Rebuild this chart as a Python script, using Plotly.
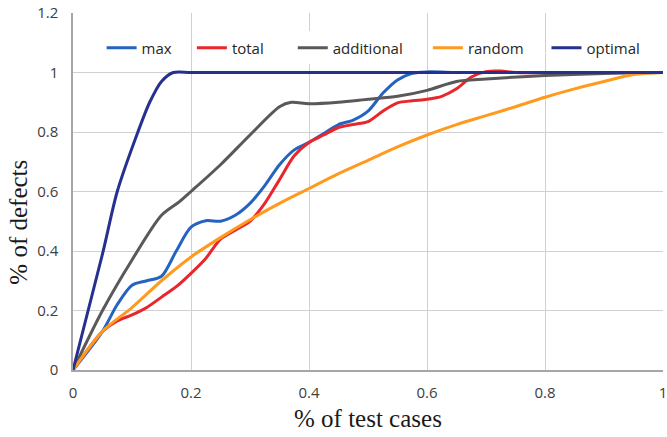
import plotly.graph_objects as go

# ---- data ----
max_x = [0, 0.05, 0.075, 0.1, 0.125, 0.15, 0.175, 0.2, 0.225, 0.25, 0.275, 0.3, 0.325, 0.35,
         0.375, 0.4, 0.425, 0.45, 0.475, 0.5, 0.525, 0.55, 0.575, 0.6, 0.65, 0.7, 0.8, 1.0]
max_y = [0, 0.13, 0.22, 0.285, 0.3, 0.315, 0.4, 0.48, 0.502, 0.5, 0.52, 0.56, 0.62, 0.69,
         0.74, 0.765, 0.795, 0.825, 0.84, 0.87, 0.93, 0.975, 0.997, 1.002, 1.0, 1.0, 1.0, 1.0]

total_x = [0, 0.05, 0.075, 0.1, 0.125, 0.15, 0.175, 0.2, 0.225, 0.25, 0.275, 0.3, 0.325, 0.35,
           0.375, 0.4, 0.425, 0.45, 0.475, 0.5, 0.525, 0.55, 0.575, 0.6, 0.625, 0.65, 0.675,
           0.7, 0.725, 0.75, 0.85, 1.0]
total_y = [0, 0.13, 0.165, 0.185, 0.21, 0.245, 0.28, 0.325, 0.375, 0.44, 0.47, 0.5, 0.56, 0.64,
           0.72, 0.765, 0.79, 0.815, 0.825, 0.835, 0.87, 0.898, 0.905, 0.91, 0.92, 0.945, 0.985,
           1.003, 1.005, 1.0, 1.0, 1.0]

additional_x = [0, 0.05, 0.1, 0.15, 0.18, 0.2, 0.25, 0.3, 0.35, 0.37, 0.4, 0.45, 0.5, 0.55,
                0.6, 0.65, 0.7, 0.8, 0.9, 1.0]
additional_y = [0, 0.2, 0.37, 0.52, 0.565, 0.6, 0.69, 0.79, 0.885, 0.9, 0.895, 0.9, 0.91, 0.92,
                0.94, 0.97, 0.978, 0.99, 0.997, 1.0]

random_x = [0, 0.05, 0.1, 0.15, 0.2, 0.25, 0.3, 0.35, 0.4, 0.45, 0.5, 0.55, 0.6, 0.65, 0.7,
            0.75, 0.8, 0.85, 0.9, 0.95, 1.0]
random_y = [0, 0.13, 0.21, 0.3, 0.38, 0.445, 0.505, 0.56, 0.61, 0.66, 0.705, 0.75, 0.79, 0.825,
            0.855, 0.885, 0.917, 0.945, 0.97, 0.993, 1.0]

optimal_x = [0, 0.05, 0.075, 0.11, 0.13, 0.15, 0.17, 0.2, 0.3, 0.5, 0.7, 1.0]
optimal_y = [0, 0.39, 0.6, 0.8, 0.9, 0.97, 1.0, 1.0, 1.0, 1.0, 1.0, 1.0]

x_ticks = [0, 0.2, 0.4, 0.6, 0.8, 1]
x_tick_labels = ["0", "0.2", "0.4", "0.6", "0.8", "1"]
y_ticks = [0, 0.2, 0.4, 0.6, 0.8, 1, 1.2]
y_tick_labels = ["0", "0.2", "0.4", "0.6", "0.8", "1", "1.2"]

series_names = ["max", "total", "additional", "random", "optimal"]
series_colors = ["#2563C0", "#E8262B", "#595959", "#FF9A1F", "#26318F"]
series_data = [(max_x, max_y), (total_x, total_y), (additional_x, additional_y),
               (random_x, random_y), (optimal_x, optimal_y)]

# legend entry positions (paper x of each legend box), one legend per series
legend_x = [0.0485, 0.2015, 0.3725, 0.6015, 0.8025]

serif = "Liberation Serif, Times New Roman, serif"
sans = "Open Sans, Liberation Sans, sans-serif"

fig = go.Figure()
for i, (name, color, (xs, ys)) in enumerate(zip(series_names, series_colors, series_data)):
    fig.add_trace(go.Scatter(
        x=xs, y=ys, name=name, mode="lines",
        line=dict(color=color, width=3, shape="spline", smoothing=0.8),
        hoverinfo="skip",
        legend="legend" if i == 0 else f"legend{i + 1}",
    ))

layout_legends = {}
for i, lx in enumerate(legend_x):
    key = "legend" if i == 0 else f"legend{i + 1}"
    layout_legends[key] = dict(
        orientation="h", x=lx, xanchor="left", y=0.902, yanchor="middle",
        bgcolor="white", borderwidth=0,
        font=dict(family=sans, size=15, color="#262626"),
    )

fig.update_layout(
    width=667, height=437,
    margin=dict(l=73, r=4, t=13, b=67, autoexpand=False),
    paper_bgcolor="white", plot_bgcolor="white",
    showlegend=True,
    **layout_legends,
    xaxis=dict(
        range=[0, 1], tickmode="array", tickvals=x_ticks, ticktext=x_tick_labels,
        showgrid=True, gridcolor="#D0D0D0", gridwidth=1.3,
        showline=True, linecolor="#A6A6A6", linewidth=1.5,
        zeroline=False, ticks="", ticklen=0, automargin=False,
        ticklabelstandoff=8, ticklabeloverflow="allow",
        tickfont=dict(family=sans, size=15, color="#404040"),
        fixedrange=True,
    ),
    yaxis=dict(
        range=[0, 1.2], tickmode="array", tickvals=y_ticks, ticktext=y_tick_labels,
        showgrid=True, gridcolor="#D0D0D0", gridwidth=1.3,
        showline=True, linecolor="#A6A6A6", linewidth=1.5,
        zeroline=False, ticks="", ticklen=0, automargin=False,
        ticklabelstandoff=10, ticklabeloverflow="allow",
        tickfont=dict(family=sans, size=15, color="#404040"),
        fixedrange=True,
    ),
    annotations=[
        dict(text="% of test cases", xref="paper", yref="paper", x=0.5, y=-0.137,
             xanchor="center", yanchor="middle", showarrow=False,
             font=dict(family=serif, size=25, color="#1a1a1a")),
        dict(text="% of defects", xref="paper", yref="paper", x=-0.093, y=0.413,
             xanchor="center", yanchor="middle", showarrow=False, textangle=-90,
             font=dict(family=serif, size=25, color="#1a1a1a")),
    ],
)

# remove the browser's default 8px page margin so the figure fills the window exactly
fig.write_html(
    "out.html",
    config={"displayModeBar": False},
    post_script="document.body.style.margin='0';document.body.style.overflow='hidden';",
)
